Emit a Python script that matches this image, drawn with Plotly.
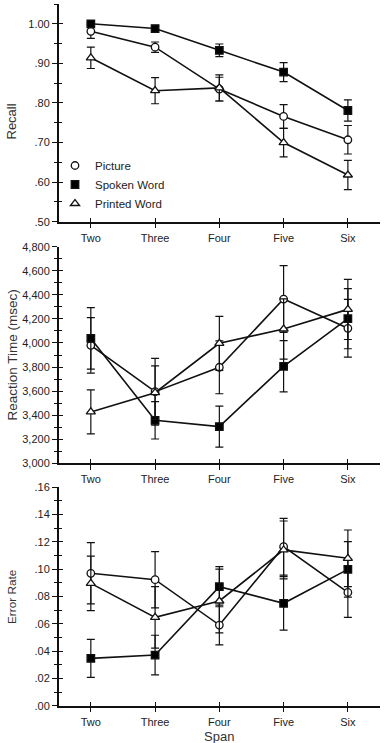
import plotly.graph_objects as go

# ---------------- data ----------------
categories = ["Two", "Three", "Four", "Five", "Six"]
series_names = ["Picture", "Spoken Word", "Printed Word"]

recall_picture = [0.981, 0.941, 0.835, 0.766, 0.707]
recall_picture_err = [0.018, 0.013, 0.030, 0.030, 0.036]
recall_spoken = [1.000, 0.988, 0.933, 0.878, 0.781]
recall_spoken_err = [0.003, 0.006, 0.016, 0.024, 0.027]
recall_printed = [0.914, 0.831, 0.838, 0.700, 0.618]
recall_printed_err = [0.027, 0.033, 0.033, 0.036, 0.037]

rt_picture = [3980, 3595, 3798, 4365, 4122]
rt_picture_err = [230, 277, 220, 277, 240]
rt_spoken = [4038, 3357, 3305, 3806, 4202]
rt_spoken_err = [255, 155, 170, 213, 250]
rt_printed = [3427, 3587, 3997, 4116, 4279]
rt_printed_err = [183, 222, 224, 250, 250]

er_picture = [0.0970, 0.0923, 0.0591, 0.1165, 0.0830]
er_picture_err = [0.0224, 0.0206, 0.0146, 0.0208, 0.0183]
er_spoken = [0.0347, 0.0371, 0.0872, 0.0750, 0.0999]
er_spoken_err = [0.0139, 0.0145, 0.0147, 0.0196, 0.0203]
er_printed = [0.0896, 0.0647, 0.0767, 0.1141, 0.1080]
er_printed_err = [0.0200, 0.0225, 0.0233, 0.0212, 0.0207]

recall_ticks = [0.5, 0.6, 0.7, 0.8, 0.9, 1.0]
recall_ticktext = [".50", ".60", ".70", ".80", ".90", "1.00"]
rt_ticks = [3000, 3200, 3400, 3600, 3800, 4000, 4200, 4400, 4600, 4800]
er_ticks = [0.0, 0.02, 0.04, 0.06, 0.08, 0.10, 0.12, 0.14, 0.16]
er_ticktext = [".00", ".02", ".04", ".06", ".08", ".10", ".12", ".14", ".16"]

# ---------------- style ----------------
FONT = "Liberation Sans, Arial, Helvetica, sans-serif"
INK = "#111111"
TXT = "#333333"
symbols = {"Picture": "circle", "Spoken Word": "square", "Printed Word": "triangle-up"}
fills = {"Picture": "white", "Spoken Word": "black", "Printed Word": "white"}
msize = {"Picture": 7.5, "Spoken Word": 7.5, "Printed Word": 8}

W, H = 391, 743
x_dom = [58.7 / W, 380 / W]
panels = [
    # (top px, bottom px)
    (4.0, 221.7),
    (246.7, 463.3),
    (487.3, 705.7),
]

def ydom(top, bot):
    return [1 - bot / H, 1 - top / H]

fig = go.Figure()

panel_data = [
    ([recall_picture, recall_spoken, recall_printed],
     [recall_picture_err, recall_spoken_err, recall_printed_err]),
    ([rt_picture, rt_spoken, rt_printed],
     [rt_picture_err, rt_spoken_err, rt_printed_err]),
    ([er_picture, er_spoken, er_printed],
     [er_picture_err, er_spoken_err, er_printed_err]),
]

for p, (vals, errs) in enumerate(panel_data):
    xa = "x" if p == 0 else f"x{p+1}"
    ya = "y" if p == 0 else f"y{p+1}"
    for name, v, e in zip(series_names, vals, errs):
        fig.add_trace(go.Scatter(
            x=categories, y=v, xaxis=xa, yaxis=ya,
            mode="lines+markers", name=name, showlegend=False,
            line=dict(color=INK, width=1.6),
            marker=dict(symbol=symbols[name], size=msize[name], color=fills[name],
                        line=dict(color=INK, width=1.3)),
            error_y=dict(type="data", array=e, visible=True, color=INK,
                         thickness=1.2, width=4),
            cliponaxis=False,
        ))
    # dummy trace on overlay axes (for crossing ticks)
    fig.add_trace(go.Scatter(x=[None], y=[None], xaxis=f"x{p+4}", yaxis=f"y{p+4}",
                             showlegend=False, hoverinfo="skip"))

# legend entries (markers only)
for name in series_names:
    fig.add_trace(go.Scatter(
        x=[None], y=[None], mode="markers", name=name, showlegend=True,
        marker=dict(symbol=symbols[name], size=msize[name], color=fills[name],
                    line=dict(color=INK, width=1.3)),
    ))

yranges = [[0.5, 1.05], [3000, 4800], [0, 0.16]]
ymajor = [
    dict(tickvals=recall_ticks, ticktext=recall_ticktext),
    dict(tickvals=rt_ticks, tickformat=",d"),
    dict(tickvals=er_ticks, ticktext=er_ticktext),
]
yminor = [dict(dtick=0.05, tick0=0.5), dict(dtick=100, tick0=3000), dict(dtick=0.01, tick0=0)]

layout = dict(
    width=W, height=H,
    margin=dict(l=0, r=0, t=0, b=0),
    paper_bgcolor="white", plot_bgcolor="white",
    font=dict(family=FONT, size=11, color=TXT),
    showlegend=True,
    legend=dict(x=55 / W, y=1 - 151 / H, xanchor="left", yanchor="top",
                bgcolor="rgba(0,0,0,0)", font=dict(size=11.5, color="#222"),
                itemwidth=30, tracegroupgap=0),
)

for p in range(3):
    sx = "" if p == 0 else str(p + 1)
    top, bot = panels[p]
    yd = ydom(top, bot)
    xa_main = "xaxis" + sx
    ya_main = "yaxis" + sx
    layout[xa_main] = dict(
        domain=x_dom, anchor="y" + sx, type="category",
        categoryorder="array", categoryarray=categories,
        range=[-0.5, 4.5], showgrid=False, zeroline=False,
        showline=True, linecolor=INK, linewidth=1.5,
        ticks="outside", ticklen=5, tickwidth=1.3, tickcolor=INK,
        tickfont=dict(size=11, color="#222"), automargin=False,
    )
    layout[ya_main] = dict(
        domain=yd, anchor="x" + sx, range=yranges[p],
        showgrid=False, zeroline=False,
        showline=True, linecolor=INK, linewidth=1.5,
        ticks="outside", ticklen=5, tickwidth=1.3, tickcolor=INK,
        tickfont=dict(size=11, color="#222"), automargin=False,
        minor=dict(ticks="outside", ticklen=3, tickwidth=1.2, tickcolor=INK, **yminor[p]),
        **ymajor[p],
    )
    # overlay axes for inner half of crossing ticks
    ox = f"xaxis{p+4}"
    oy = f"yaxis{p+4}"
    layout[ox] = dict(
        overlaying="x" + sx, anchor="y" + sx, range=[-0.5, 4.5],
        tickvals=list(range(len(categories))), showticklabels=False,
        showgrid=False, zeroline=False, showline=False,
        ticks="inside", ticklen=4, tickwidth=1.3, tickcolor=INK,
    )
    layout[oy] = dict(
        overlaying="y" + sx, anchor="x" + sx, range=yranges[p], side="left",
        tickvals=ymajor[p]["tickvals"], showticklabels=False,
        showgrid=False, zeroline=False, showline=False,
        ticks="inside", ticklen=4, tickwidth=1.3, tickcolor=INK,
        minor=dict(ticks="inside", ticklen=3, tickwidth=1.2, tickcolor=INK, **yminor[p]),
    )

fig.update_layout(**layout)

# axis titles
titles = [("Recall", 13), ("Reaction Time (msec)", 13.5), ("Error Rate", 11.8)]
for p, (t, fs) in enumerate(titles):
    top, bot = panels[p]
    cy = 1 - ((top + bot) / 2) / H
    if p == 0:
        cy = 1 - 122 / H
    fig.add_annotation(text=t, xref="paper", yref="paper", x=11.5 / W, y=cy,
                       textangle=-90, showarrow=False, xanchor="center", yanchor="middle",
                       font=dict(size=fs, color=TXT, family=FONT))

fig.add_annotation(text="Span", xref="paper", yref="paper", x=218.5 / W, y=1 - 736.5 / H,
                   showarrow=False, xanchor="center", yanchor="middle",
                   font=dict(size=13, color=TXT, family=FONT))

fig.write_html("out.html")
